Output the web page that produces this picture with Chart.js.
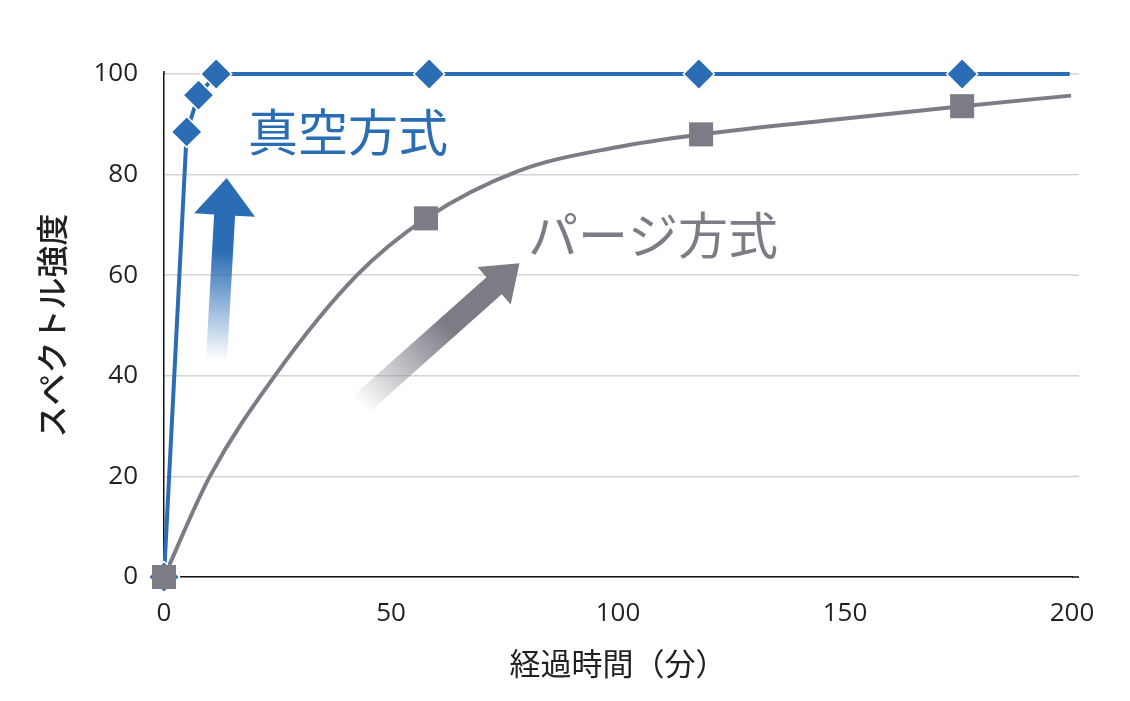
<!DOCTYPE html>
<html>
<head>
<meta charset="utf-8">
<script src="https://cdn.jsdelivr.net/npm/chart.js@4.4.1/dist/chart.umd.min.js"></script>
<style>
html,body{margin:0;padding:0;background:#fff;}
#wrap{width:1130px;height:701px;}
</style>
</head>
<body>
<div id="wrap"><canvas id="c" width="1130" height="701"></canvas></div>
<script>
// ---- data ----
const xTicks = [0, 50, 100, 150, 200];
const yTicks = [0, 20, 40, 60, 80, 100];

const vacuumTime  = [0, 5.0, 7.6, 11.5, 58.4, 117.8, 175.8, 199.5];
const vacuumValue = [0, 88.5, 95.8, 100, 100, 100, 100, 100];
const vacuumMarked = [true, true, true, true, true, true, true, false];

const purgeTime  = [0, 57.7, 118.3, 175.8];
const purgeValue = [0, 71.3, 88.0, 93.6];

// traced path of the smooth purge curve
const purgeTraceTime  = [0, 10.1, 24.4, 42.5, 57.7, 78.0, 100.0, 118.3, 147.4, 175.8, 199.8];
const purgeTraceValue = [0, 20, 40, 60, 71.3, 80.7, 85.5, 88.0, 90.9, 93.6, 95.7];

const labelVacuum = '真空方式';
const labelPurge = 'パージ方式';
const xTitle = '経過時間（分）';
const yTitle = 'スペクトル強度';

const BLUE = '#2a6db4';
const GRAY = '#7b7c86';
const GRID = '#d4d4d4';

const toPts = (xs, ys) => xs.map((x, i) => ({x: x, y: ys[i]}));

// annotations in data coordinates
const notes = [
  {text: labelVacuum, x: 18.5, y: 88.4, color: BLUE},
  {text: labelPurge, x: 80.2, y: 68.0, color: GRAY}
];
const arrows = [
  {from: [11.56, 43.1], to: [13.8, 79.3], color: [42,109,180], shaft: 21, headW: 61, headL: 37, solidAt: 0.6},
  {from: [43.2, 34.2], to: [78.3, 62.4], color: [123,124,134], shaft: 23, headW: 50, headL: 34, solidAt: 0.55}
];

// small extension of gridlines / axis line past the last x tick, as in the reference
const gridExtend = {
  id: 'gridExtend',
  beforeDatasetsDraw(chart) {
    const ctx = chart.ctx, ys = chart.scales.y, a = chart.chartArea;
    ctx.save();
    ys.ticks.forEach(t => {
      const y = ys.getPixelForValue(t.value);
      ctx.beginPath();
      ctx.strokeStyle = t.value === 0 ? '#111' : GRID;
      ctx.lineWidth = 1.5;
      ctx.moveTo(a.right, y);
      ctx.lineTo(a.right + 7, y);
      ctx.stroke();
    });
    ctx.beginPath();
    ctx.strokeStyle = '#111';
    ctx.lineWidth = 1.5;
    ctx.moveTo(a.left, a.top);
    ctx.lineTo(a.left, a.top - 3);
    ctx.stroke();
    ctx.restore();
  }
};

const decor = {
  id: 'decor',
  afterDatasetsDraw(chart) {
    const ctx = chart.ctx, xs = chart.scales.x, ys = chart.scales.y;
    ctx.save();
    arrows.forEach(a => {
      const x0 = xs.getPixelForValue(a.from[0]), y0 = ys.getPixelForValue(a.from[1]);
      const x1 = xs.getPixelForValue(a.to[0]), y1 = ys.getPixelForValue(a.to[1]);
      const dx = x1 - x0, dy = y1 - y0, len = Math.hypot(dx, dy);
      const ux = dx / len, uy = dy / len, px = -uy, py = ux;
      const c = a.color;
      const g = ctx.createLinearGradient(x0, y0, x1, y1);
      g.addColorStop(0, `rgba(${c[0]},${c[1]},${c[2]},0)`);
      g.addColorStop(a.solidAt, `rgba(${c[0]},${c[1]},${c[2]},1)`);
      g.addColorStop(1, `rgba(${c[0]},${c[1]},${c[2]},1)`);
      const bx = x1 - ux * a.headL, by = y1 - uy * a.headL;
      const hs = a.shaft / 2, hh = a.headW / 2;
      ctx.beginPath();
      ctx.moveTo(x0 + px * hs, y0 + py * hs);
      ctx.lineTo(bx + px * hs, by + py * hs);
      ctx.lineTo(bx + px * hh, by + py * hh);
      ctx.lineTo(x1, y1);
      ctx.lineTo(bx - px * hh, by - py * hh);
      ctx.lineTo(bx - px * hs, by - py * hs);
      ctx.lineTo(x0 - px * hs, y0 - py * hs);
      ctx.closePath();
      ctx.fillStyle = g;
      ctx.fill();
    });
    ctx.font = '400 50px "Noto Sans CJK JP", sans-serif';
    ctx.textBaseline = 'middle';
    ctx.textAlign = 'left';
    notes.forEach(n => {
      ctx.fillStyle = n.color;
      ctx.fillText(n.text, xs.getPixelForValue(n.x), ys.getPixelForValue(n.y));
    });
    ctx.restore();
  }
};

new Chart(document.getElementById('c'), {
  type: 'line',
  data: {
    datasets: [
      {
        label: 'purgeMarkers',
        data: toPts(purgeTime, purgeValue),
        showLine: false,
        pointStyle: 'rect',
        pointRadius: 17,
        pointBorderWidth: 0,
        pointBackgroundColor: GRAY,
        borderColor: GRAY,
        clip: false
      },
      {
        label: 'vacuum',
        data: toPts(vacuumTime, vacuumValue),
        borderColor: BLUE,
        borderWidth: 4,
        tension: 0,
        pointStyle: 'rectRot',
        pointRadius: vacuumMarked.map(m => m ? 15.5 : 0),
        pointBorderWidth: 1.5,
        pointBorderColor: '#ffffff',
        pointBackgroundColor: BLUE,
        clip: false
      },
      {
        label: 'purgeCurve',
        data: toPts(purgeTraceTime, purgeTraceValue),
        borderColor: GRAY,
        borderWidth: 4,
        cubicInterpolationMode: 'monotone',
        pointRadius: 0,
        clip: false
      }
    ]
  },
  options: {
    responsive: false,
    animation: false,
    devicePixelRatio: 1,
    layout: {padding: {top: 74, right: 58, left: 0, bottom: 0}},
    plugins: {legend: {display: false}, tooltip: {enabled: false}},
    scales: {
      x: {
        type: 'linear',
        min: 0, max: 200,
        afterBuildTicks: s => { s.ticks = xTicks.map(v => ({value: v})); },
        afterFit: s => { s.height = 124; },
        grid: {display: false, drawTicks: false},
        border: {display: true, color: '#111', width: 1.5},
        ticks: {padding: 21, color: '#231f20', font: {family: '"Open Sans", sans-serif', size: 26}, maxRotation: 0},
        title: {display: true, text: xTitle, color: '#231f20', padding: {top: 0, bottom: 19},
                font: {family: '"Noto Sans CJK JP", sans-serif', size: 31, weight: '400'}}
      },
      y: {
        type: 'linear',
        min: 0, max: 100,
        afterBuildTicks: s => { s.ticks = yTicks.map(v => ({value: v})); },
        afterFit: s => { s.width = 164; },
        grid: {color: GRID, lineWidth: 1.5, drawTicks: false},
        border: {display: true, color: '#111', width: 1.5},
        ticks: {padding: 26, color: '#231f20', font: {family: '"Open Sans", sans-serif', size: 26}},
        title: {display: true, text: yTitle, color: '#231f20', padding: {top: 33, bottom: 0},
                font: {family: '"Noto Sans CJK JP", sans-serif', size: 32, weight: '500'}}
      }
    }
  },
  plugins: [gridExtend, decor]
});
</script>
</body>
</html>
